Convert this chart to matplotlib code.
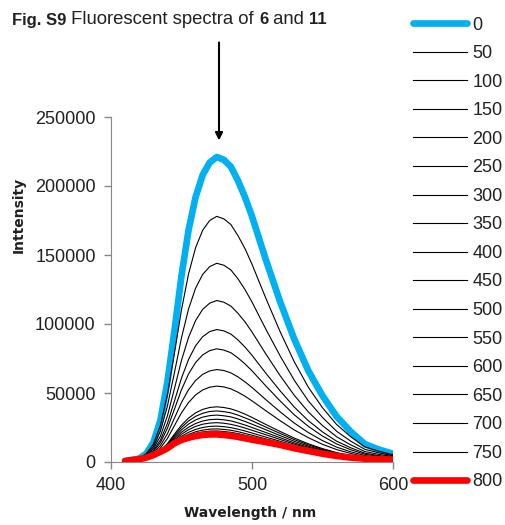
import matplotlib.pyplot as plt

plt.rcParams['font.family'] = ['Liberation Sans', 'DejaVu Sans']

# emission wavelength (nm)
wavelength = [410, 420, 425, 430, 435, 440, 445, 450, 455, 460, 465, 470, 475, 480,
              485, 490, 495, 500, 510, 520, 530, 540, 550, 560, 570, 580, 590, 600]

# intensity, one list per amount added
s0 = [500, 2500, 6000, 14000, 30000, 58000, 95000, 135000, 168000, 192000, 208000, 217000, 221000, 219000,
      214000, 204000, 192000, 178000, 146000, 116000, 89000, 66000, 48000, 33000, 22000, 13000, 9000, 6000]
s50 = [700, 2800, 6000, 12900, 26300, 48800, 78800, 110400, 136300, 155300, 167900, 175000, 178000, 176200,
       172100, 164100, 154700, 143300, 118200, 94300, 72600, 54100, 39300, 27200, 18300, 11000, 7800, 5300]
s100 = [700, 2600, 5400, 11200, 22300, 40500, 64800, 90100, 110900, 126000, 135900, 141600, 144000, 142600,
        139200, 132800, 125000, 115900, 95900, 76800, 59200, 44200, 32300, 22300, 15100, 9200, 6600, 4600]
s150 = [700, 2300, 4700, 9600, 18600, 33400, 53200, 73700, 90300, 102500, 110600, 115100, 117000, 115800,
        113000, 107800, 101600, 94200, 78000, 62500, 48300, 36200, 26400, 18300, 12400, 7600, 5500, 3900]
s200 = [600, 2100, 4100, 8200, 15800, 27900, 44200, 60800, 74300, 84200, 90800, 94500, 96000, 95000,
        92700, 88500, 83300, 77300, 64100, 51500, 39800, 29900, 21800, 15100, 10300, 6400, 4600, 3300]
s250 = [600, 2000, 3900, 7500, 14000, 24400, 38300, 52400, 63800, 72100, 77600, 80700, 82000, 81100,
        79200, 75500, 71100, 66100, 54900, 44200, 34200, 25800, 18800, 13100, 8900, 5600, 4100, 3000]
s300 = [600, 1800, 3400, 6500, 11900, 20400, 31800, 43200, 52400, 59100, 63500, 66000, 67000, 66300,
        64600, 61700, 58100, 54000, 45000, 36300, 28200, 21300, 15500, 10800, 7400, 4700, 3500, 2600]
s350 = [500, 1600, 2900, 5500, 10100, 17000, 26400, 35700, 43100, 48600, 52200, 54200, 55000, 54400,
        53000, 50600, 47700, 44300, 37000, 29900, 23200, 17600, 12800, 9000, 6200, 3900, 2900, 2200]
s400 = [500, 1500, 2700, 4800, 8200, 13300, 20200, 26700, 31800, 35600, 38100, 39500, 40000, 39500,
        38500, 36800, 34700, 32300, 27100, 22100, 17300, 13200, 9700, 6800, 4700, 3100, 2300, 1800]
s450 = [600, 1600, 2700, 4800, 8100, 12800, 19100, 25100, 29700, 33100, 35300, 36600, 37000, 36500,
        35600, 34000, 32000, 29900, 25200, 20700, 16200, 12400, 9100, 6400, 4500, 3000, 2300, 1800]
s500 = [600, 1600, 2700, 4700, 7800, 12100, 18000, 23300, 27500, 30500, 32500, 33600, 34000, 33500,
        32700, 31200, 29400, 27400, 23300, 19100, 15000, 11500, 8500, 6000, 4200, 2800, 2200, 1800]
s550 = [600, 1600, 2700, 4600, 7500, 11400, 16800, 21600, 25200, 27900, 29700, 30700, 31000, 30600,
        29800, 28400, 26800, 25000, 21300, 17600, 13800, 10700, 7900, 5600, 3900, 2700, 2100, 1700]
s600 = [600, 1600, 2700, 4500, 7200, 10900, 15800, 20100, 23400, 25800, 27400, 28200, 28500, 28100,
        27300, 26100, 24600, 23000, 19700, 16300, 12900, 10000, 7400, 5300, 3700, 2600, 2000, 1700]
s650 = [600, 1600, 2600, 4300, 6900, 10200, 14800, 18600, 21500, 23600, 25000, 25800, 26000, 25600,
        24900, 23800, 22500, 21000, 18000, 15000, 11900, 9200, 6800, 4900, 3500, 2400, 1900, 1600]
s700 = [600, 1500, 2600, 4200, 6600, 9700, 13900, 17400, 20000, 21900, 23100, 23800, 24000, 23600,
        23000, 22000, 20700, 19400, 16700, 14000, 11100, 8600, 6400, 4600, 3300, 2300, 1800, 1600]
s750 = [600, 1600, 2700, 4400, 6700, 9600, 13600, 16700, 19000, 20700, 21800, 22400, 22500, 22100,
        21500, 20600, 19400, 18200, 15800, 13300, 10600, 8300, 6200, 4500, 3200, 2300, 1900, 1600]
s800 = [800, 2000, 3200, 5000, 7400, 10000, 13600, 16000, 17600, 18800, 19600, 20000, 20000, 19600,
        19000, 18200, 17200, 16200, 14400, 12400, 10000, 8000, 6000, 4400, 3200, 2400, 2000, 1800]

labels = ['0', '50', '100', '150', '200', '250', '300', '350', '400',
          '450', '500', '550', '600', '650', '700', '750', '800']
spectra = [s0, s50, s100, s150, s200, s250, s300, s350, s400,
           s450, s500, s550, s600, s650, s700, s750, s800]

fig = plt.figure(figsize=(5.05, 5.25), dpi=100)
ax = fig.add_axes([111/505, 63/525, 282/505, 345/525])

for lab, ys in zip(labels, spectra):
    if lab == '0':
        ax.plot(wavelength, ys, color='#00B0F0', lw=4.8, label=lab, solid_capstyle='round')
    elif lab == '800':
        ax.plot(wavelength, ys, color='#FF0000', lw=4.8, label=lab, solid_capstyle='round')
    else:
        ax.plot(wavelength, ys, color='black', lw=0.8, label=lab)

ax.set_xlim(400, 600)
ax.set_ylim(0, 250000)
ax.set_xticks([400, 500, 600])
ax.set_yticks([0, 50000, 100000, 150000, 200000, 250000])
for s in ['top', 'right']:
    ax.spines[s].set_visible(False)
for s in ['left', 'bottom']:
    ax.spines[s].set_color('#868686')
ax.tick_params(direction='out', length=5, width=1, color='#868686',
               labelsize=13, labelcolor='#202020', pad=6)

# arrow pointing at the maximum
ax.annotate('', xy=(476.6, 233000), xytext=(476.6, 304000), annotation_clip=False,
            arrowprops=dict(arrowstyle='-|>', color='black', lw=1.5,
                            shrinkA=0, shrinkB=0, mutation_scale=11))

fig.text(250/505, 1 - 513/525, 'Wavelength / nm', family='DejaVu Sans', weight='bold',
         fontsize=10, ha='center', va='center', color='#202020')
fig.text(18.5/505, 1 - 215/525, 'Inttensity', family='DejaVu Sans', weight='bold',
         fontsize=10, rotation=90, ha='center', va='center', color='#202020')

# title in pieces, bold and normal, all on one baseline
renderer = fig.canvas.get_renderer()
x = 12
for piece, w, fs in [('Fig. S9', 'bold', 12), (' Fluorescent spectra of ', 'normal', 13.3),
                     ('6', 'bold', 12), (' and ', 'normal', 13.3), ('11', 'bold', 12)]:
    t = fig.text(x/505, 1 - 24.5/525, piece, weight=w, fontsize=fs, va='baseline', color='#202020')
    x = t.get_window_extent(renderer).x1

ax.legend(loc='upper left', bbox_to_anchor=(413/505, 1 - 16.5/525), bbox_transform=fig.transFigure,
          frameon=False, fontsize=13, handlelength=3.0, handletextpad=0.3,
          labelspacing=0.64, borderpad=0, borderaxespad=0, labelcolor='#202020')

fig.savefig('out.png', dpi=100)
